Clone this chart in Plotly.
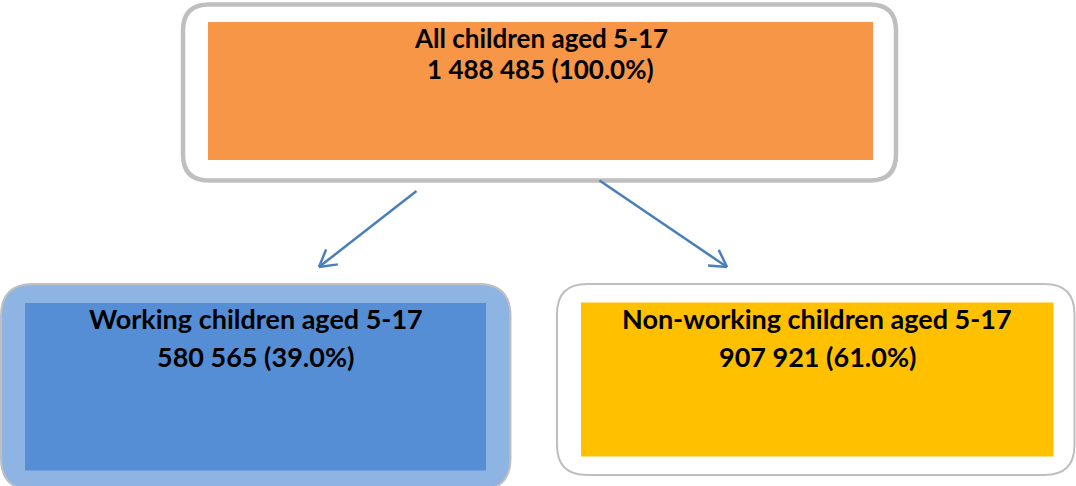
import math
import plotly.graph_objects as go

# ---- data ----
group_labels = ["All children aged 5-17", "Working children aged 5-17", "Non-working children aged 5-17"]
counts = [1488485, 580565, 907921]
shares = [100.0, 39.0, 61.0]

# ---- styles / layout (pixel coordinates, y downward) ----
W, H = 1076, 486
outer_boxes = [  # x0, y0, x1, y1, radius
    (183, 4.5, 896, 180.5, 26),
    (1, 284, 510.5, 490, 32),
    (557, 284, 1074.5, 475, 30),
]
outer_fill = ["#FFFFFF", "#8EB4E3", "#FFFFFF"]
outer_line = [("#BFBFBF", 4.5), ("#BFBFBF", 2), ("#BFBFBF", 2)]
inner_boxes = [
    (208, 22, 873, 160),
    (25, 303, 486, 470.5),
    (581, 302.5, 1053.5, 456.5),
]
inner_fill = ["#F79646", "#558ED5", "#FFC000"]
line1_y = [37.5, 318.5, 318.5]
line2_y = [68.5, 356, 356]
font_sizes = [26, 27, 27]
arrows = [((416.5, 191), (319, 267)), ((599.5, 180.5), (727, 267))]
arrow_color = "#4A7EBB"
FONT = "Lato"


def rrect(x0, y0, x1, y1, r):
    return (f"M{x0+r},{y0} L{x1-r},{y0} Q{x1},{y0} {x1},{y0+r} "
            f"L{x1},{y1-r} Q{x1},{y1} {x1-r},{y1} L{x0+r},{y1} "
            f"Q{x0},{y1} {x0},{y1-r} L{x0},{y0+r} Q{x0},{y0} {x0+r},{y0} Z")


def fmt(n):
    return f"{n:,}".replace(",", " ")


fig = go.Figure()
shapes = []
for (x0, y0, x1, y1, r), fc, (lc, lw) in zip(outer_boxes, outer_fill, outer_line):
    shapes.append(dict(type="path", path=rrect(x0, y0, x1, y1, r), xref="x", yref="y",
                       fillcolor=fc, line=dict(color=lc, width=lw), layer="below"))
for (x0, y0, x1, y1), fc in zip(inner_boxes, inner_fill):
    shapes.append(dict(type="rect", x0=x0, y0=y0, x1=x1, y1=y1, xref="x", yref="y",
                       fillcolor=fc, line=dict(width=0), layer="below"))

# arrows: shaft + open V head
for (sx, sy), (tx, ty) in arrows:
    shapes.append(dict(type="line", x0=sx, y0=sy, x1=tx, y1=ty, xref="x", yref="y",
                       line=dict(color=arrow_color, width=2.5)))
    ang = math.atan2(sy - ty, sx - tx)
    for d in (math.radians(30), -math.radians(30)):
        bx = tx + 19 * math.cos(ang + d)
        by = ty + 19 * math.sin(ang + d)
        shapes.append(dict(type="line", x0=tx, y0=ty, x1=bx, y1=by, xref="x", yref="y",
                           line=dict(color=arrow_color, width=2.5)))

annotations = []
for (x0, y0, x1, y1), lab, c, s, ya, yb, fs in zip(inner_boxes, group_labels, counts, shares,
                                                   line1_y, line2_y, font_sizes):
    cx = (x0 + x1) / 2
    annotations.append(dict(x=cx, y=ya, xref="x", yref="y", text=lab, showarrow=False,
                            xanchor="center", yanchor="middle",
                            font=dict(family=FONT, size=fs, color="#000000", weight="bold")))
    annotations.append(dict(x=cx, y=yb, xref="x", yref="y", text=f"{fmt(c)} ({s:.1f}%)", showarrow=False,
                            xanchor="center", yanchor="middle",
                            font=dict(family=FONT, size=fs, color="#000000", weight="bold")))

fig.update_layout(
    width=W, height=H,
    margin=dict(l=0, r=0, t=0, b=0),
    paper_bgcolor="#FFFFFF", plot_bgcolor="#FFFFFF",
    xaxis=dict(range=[0, W], visible=False, fixedrange=True),
    yaxis=dict(range=[H, 0], visible=False, fixedrange=True),
    shapes=shapes, annotations=annotations,
    showlegend=False,
)
fig.write_html("out.html", config={"displayModeBar": False},
               post_script="document.body.style.margin='0px';")
